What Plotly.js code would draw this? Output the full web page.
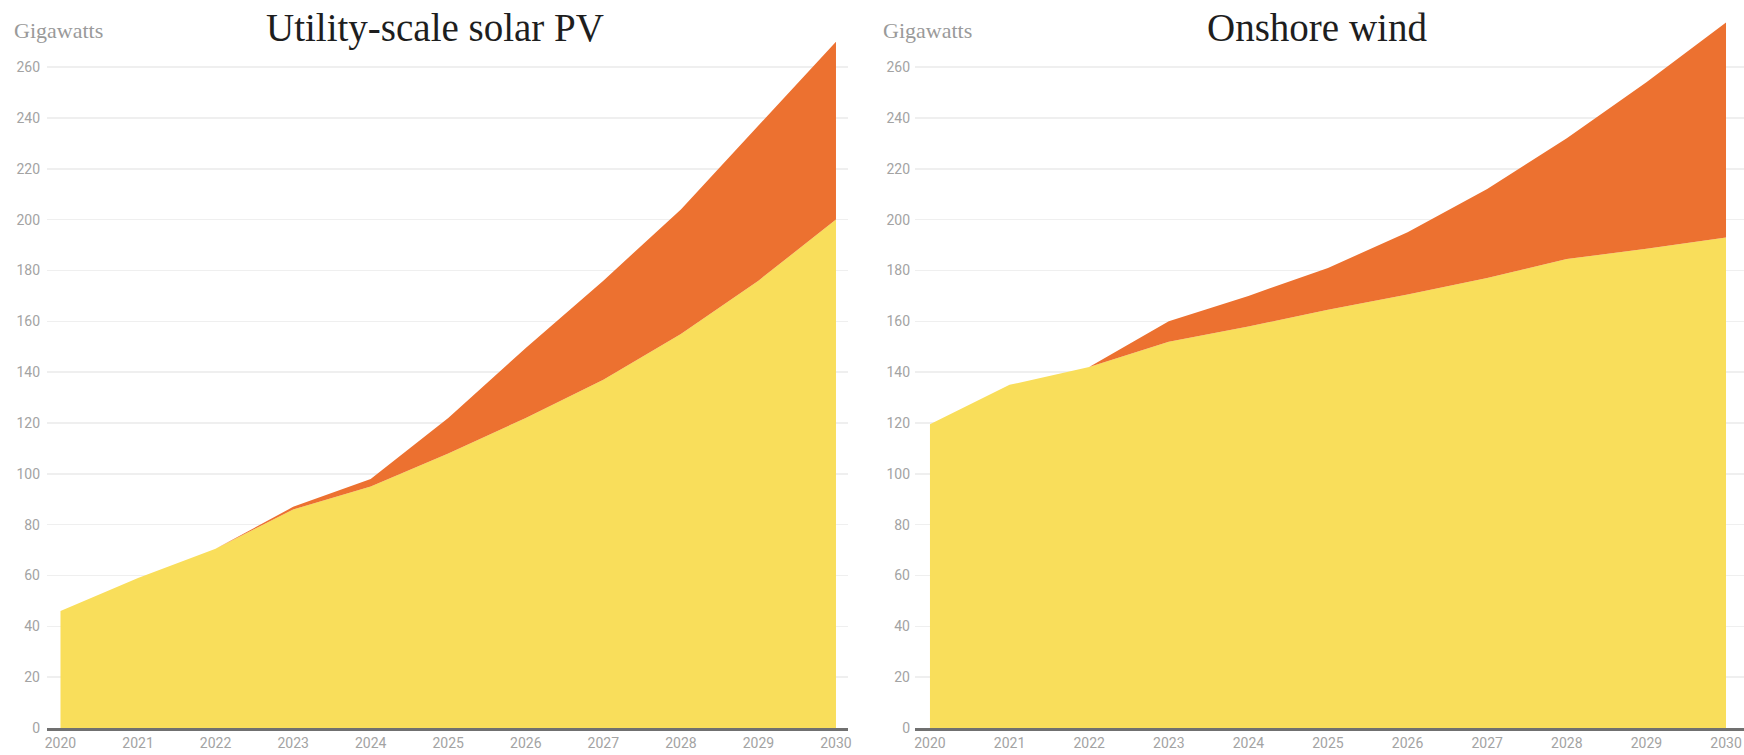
<!DOCTYPE html>
<html>
<head>
<meta charset="utf-8">
<script src="https://cdn.plot.ly/plotly-3.0.1.min.js"></script>
<style>
  html, body { margin: 0; padding: 0; background: #ffffff; }
  #chart { width: 1744px; height: 755px; }
</style>
</head>
<body>
<div id="chart"></div>
<script>
// Installed capacity, gigawatts
const years = [2020, 2021, 2022, 2023, 2024, 2025, 2026, 2027, 2028, 2029, 2030];
const yTicks = [0, 20, 40, 60, 80, 100, 120, 140, 160, 180, 200, 220, 240, 260];

// Utility-scale solar PV: base projection and the added capacity stacked on top
const solarBase  = [46, 59, 70.5, 86, 95, 108, 122, 137, 155, 176, 200];
const solarAdded = [0, 0, 0, 1, 3, 14, 27.5, 39, 49, 61, 70];

// Onshore wind: base projection and the added capacity stacked on top
const windBase  = [119.5, 135, 142, 152, 158, 164.5, 170.5, 177, 184.5, 188.5, 193];
const windAdded = [0, 0, 0, 8, 12, 16.5, 24.5, 35, 47.5, 65.5, 84.5];

const panelTitles = ['Utility-scale solar PV', 'Onshore wind'];
const unitLabel = 'Gigawatts';

const YELLOW = '#F9DE5B';
const ORANGE = '#EC7130';
const W = 1744, H = 755;
const PLOT_BOTTOM = 728;          // pixel row of the zero line
const Y_MAX = 286.4;

function area(y, color, n, group) {
  return {
    x: years, y: y, type: 'scatter', mode: 'lines',
    stackgroup: group, fillcolor: color,
    line: { width: 0, color: color, shape: 'linear' },
    xaxis: n === 1 ? 'x' : 'x2', yaxis: n === 1 ? 'y' : 'y2',
    hoverinfo: 'skip', showlegend: false
  };
}

const data = [
  area(solarBase,  YELLOW, 1, 'solar'),
  area(solarAdded, ORANGE, 1, 'solar'),
  area(windBase,   YELLOW, 2, 'wind'),
  area(windAdded,  ORANGE, 2, 'wind')
];

const tickFont = { family: 'Roboto, "Liberation Sans", sans-serif', size: 14, color: '#a3a3a3' };

function xAxis(domain, range, anchor) {
  return {
    domain: domain, range: range, anchor: anchor,
    tickmode: 'array', tickvals: years, ticktext: years.map(String),
    showgrid: false, zeroline: false,
    showline: true, linecolor: '#707070', linewidth: 3,
    ticks: '', tickfont: tickFont, ticklabelstandoff: 0,
    fixedrange: true
  };
}
function yAxis(anchor, standoff) {
  return {
    domain: [0, 1], range: [0, Y_MAX], anchor: anchor,
    tickmode: 'array', tickvals: yTicks, ticktext: yTicks.map(String),
    showgrid: true, gridcolor: '#efefef', gridwidth: 1.5,
    zeroline: false, showline: false, ticks: '',
    tickfont: tickFont, ticklabelstandoff: standoff,
    fixedrange: true
  };
}

// paper y (0 at zero line, 1 at top edge) for a pixel row
const py = (row) => (PLOT_BOTTOM - row) / PLOT_BOTTOM;
const px = (col) => col / W;

const serif = '"Liberation Serif", "DejaVu Serif", serif';

const annotations = [
  { text: panelTitles[0], x: px(435), y: py(28), xanchor: 'center', yanchor: 'middle',
    font: { family: serif, size: 39, color: '#1e1e1e' } },
  { text: panelTitles[1], x: px(1317), y: py(28), xanchor: 'center', yanchor: 'middle',
    font: { family: serif, size: 39, color: '#1e1e1e' } },
  { text: unitLabel, x: px(12), y: py(31), xanchor: 'left', yanchor: 'middle',
    font: { family: serif, size: 22, color: '#9a9a9a' } },
  { text: unitLabel, x: px(881), y: py(31), xanchor: 'left', yanchor: 'middle',
    font: { family: serif, size: 22, color: '#9a9a9a' } }
].map(a => Object.assign({ xref: 'paper', yref: 'paper', showarrow: false }, a));

const layout = {
  width: W, height: H,
  margin: { l: 0, r: 0, t: 0, b: H - PLOT_BOTTOM, pad: 0 },
  paper_bgcolor: '#ffffff', plot_bgcolor: '#ffffff',
  showlegend: false,
  xaxis:  xAxis([47 / W, 848 / W], [2019.826, 2030.155], 'y'),
  yaxis:  yAxis('x', 6),
  xaxis2: xAxis([915 / W, 1], [2019.812, 2030.226], 'y2'),
  yaxis2: yAxis('x2', 4),
  annotations: annotations
};

Plotly.newPlot('chart', data, layout, { staticPlot: true, displayModeBar: false });
</script>
</body>
</html>
